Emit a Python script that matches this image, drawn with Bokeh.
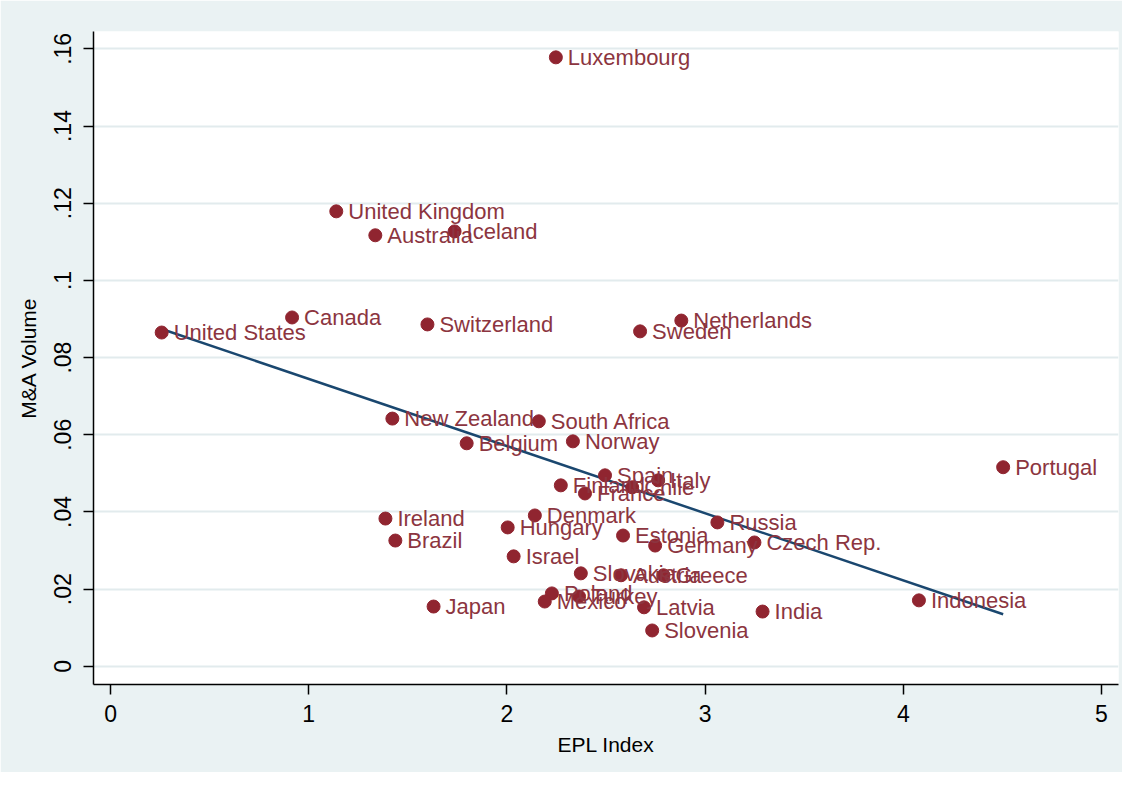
from bokeh.plotting import figure
from bokeh.models import ColumnDataSource, Range1d, FixedTicker
from bokeh.core.properties import value
from bokeh.embed import file_html
from bokeh.resources import INLINE

countries = ["Luxembourg", "United Kingdom", "Australia", "Iceland", "Canada",
             "United States", "Switzerland", "Sweden", "Netherlands", "New Zealand",
             "South Africa", "Belgium", "Norway", "Portugal", "Spain", "Italy",
             "Finland", "Chile", "France", "Denmark", "Ireland", "Hungary", "Russia",
             "Estonia", "Brazil", "Germany", "Czech Rep.", "Israel", "Slovakia",
             "Austria", "Greece", "Poland", "Turkey", "Mexico", "Latvia", "Slovenia",
             "India", "Japan", "Indonesia"]
epl = [2.247, 1.139, 1.336, 1.736, 0.916,
       0.258, 1.599, 2.672, 2.880, 1.422,
       2.161, 1.797, 2.333, 4.504, 2.495, 2.763,
       2.272, 2.632, 2.394, 2.141, 1.387, 2.004, 3.062,
       2.586, 1.437, 2.748, 3.249, 2.034, 2.373,
       2.576, 2.790, 2.227, 2.364, 2.191, 2.692, 2.733,
       3.290, 1.630, 4.079]
mna = [0.1578, 0.1179, 0.1117, 0.1127, 0.0904,
       0.0865, 0.0886, 0.0868, 0.0896, 0.0642,
       0.0635, 0.0578, 0.0583, 0.0516, 0.0495, 0.0482,
       0.0469, 0.0464, 0.0448, 0.0391, 0.0383, 0.0360, 0.0373,
       0.0339, 0.0326, 0.0313, 0.0321, 0.0285, 0.0241,
       0.0236, 0.0236, 0.0189, 0.0181, 0.0168, 0.0153, 0.0093,
       0.0142, 0.0155, 0.0171]

# fitted line (linear fit) end points
fit_x = [0.258, 4.504]
fit_y = [0.0874, 0.0135]

y_ticks = [0, 0.02, 0.04, 0.06, 0.08, 0.10, 0.12, 0.14, 0.16]
y_tick_labels = ["0", ".02", ".04", ".06", ".08", ".1", ".12", ".14", ".16"]
x_ticks = [0, 1, 2, 3, 4, 5]

BG = "#EAF2F3"
FONT = "Liberation Sans"

p = figure(width=1122, height=772, output_backend="svg", toolbar_location=None,
           x_range=Range1d(-0.086, 5.086), y_range=Range1d(-0.0047, 0.1645),
           min_border_left=93, min_border_right=4, min_border_top=31, min_border_bottom=88)
p.background_fill_color = "white"
p.border_fill_color = BG
p.outline_line_color = None

p.xgrid.grid_line_color = None
p.ygrid.grid_line_color = "#E2EBED"
p.ygrid.grid_line_width = 2

for ax in (p.xaxis[0], p.yaxis[0]):
    ax.axis_line_color = "black"
    ax.axis_line_width = 1.5
    ax.major_tick_line_color = "black"
    ax.major_tick_line_width = 1.5
    ax.major_tick_out = 10
    ax.major_tick_in = 0
    ax.minor_tick_line_color = None
    ax.major_label_text_font = FONT
    ax.major_label_text_font_size = "23px"
    ax.major_label_text_color = "black"
    ax.axis_label_text_font = FONT
    ax.axis_label_text_font_size = "21px"
    ax.axis_label_text_font_style = "normal"
    ax.axis_label_text_color = "black"

p.xaxis.ticker = FixedTicker(ticks=x_ticks)
p.yaxis.ticker = FixedTicker(ticks=y_ticks)
p.yaxis.major_label_overrides = {t: l for t, l in zip(y_ticks, y_tick_labels)}
p.yaxis.major_label_orientation = "vertical"
p.xaxis.axis_label = "EPL Index"
p.yaxis.axis_label = "M&A Volume"
p.xaxis.major_label_standoff = 10
p.xaxis.axis_label_standoff = 8
p.yaxis.major_label_standoff = 12
p.yaxis.axis_label_standoff = 12

p.line(fit_x, fit_y, line_color="#1A476F", line_width=2.5)

src = ColumnDataSource(dict(x=epl, y=mna, name=countries))
p.scatter("x", "y", source=src, size=13, fill_color="#902530", line_color="#902530")
p.text("x", "y", text="name", source=src, x_offset=12, text_baseline="middle",
       text_align="left", text_font=value(FONT), text_font_size="22px",
       text_color="#8C3540")

open("out.html", "w").write(file_html(p, INLINE))
